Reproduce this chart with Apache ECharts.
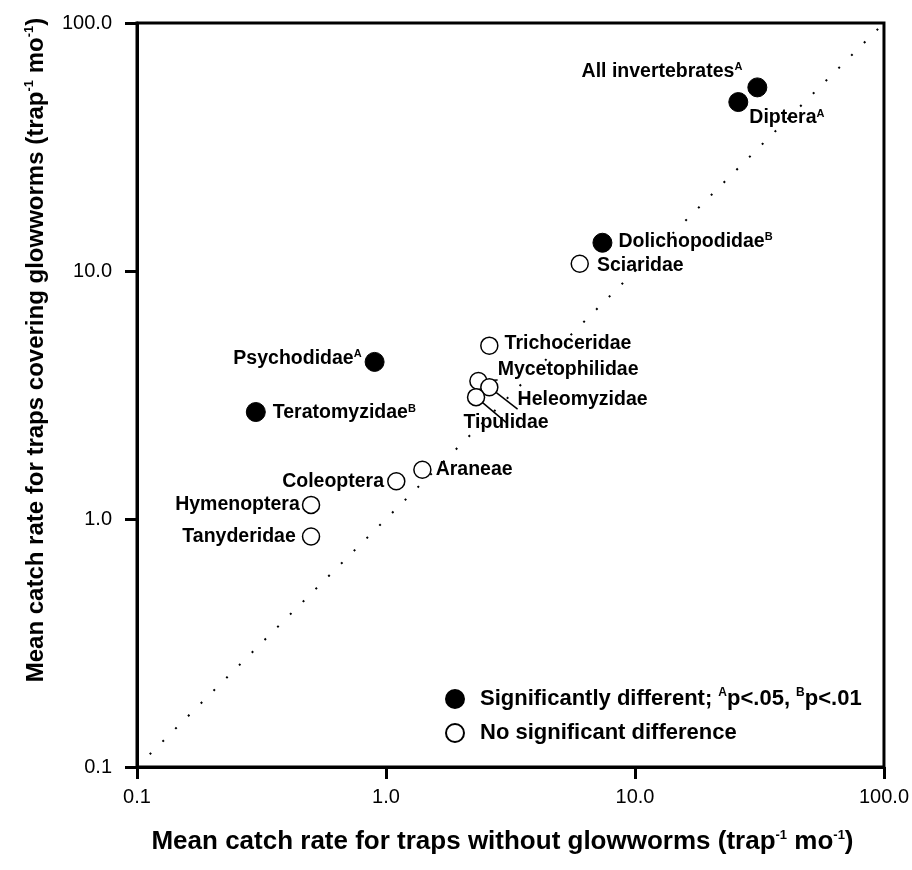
<!DOCTYPE html>
<html><head><meta charset="utf-8">
<script src="https://cdn.jsdelivr.net/npm/echarts@6/dist/echarts.min.js"></script>
<style>html,body{margin:0;padding:0;background:#fff}#c{width:912px;height:870px}</style>
</head><body><div id="c"></div>
<script>
// ---- data ----
const sigNames = ['All invertebrates', 'Diptera', 'Dolichopodidae', 'Psychodidae', 'Teratomyzidae'];
const sigX = [31, 26, 7.4, 0.9, 0.3];
const sigY = [55, 48, 13, 4.3, 2.7];
const sigLetter = ['A', 'A', 'B', 'A', 'B'];

const nsNames = ['Sciaridae', 'Trichoceridae', 'Mycetophilidae', 'Heleomyzidae', 'Tipulidae', 'Araneae', 'Coleoptera', 'Hymenoptera', 'Tanyderidae'];
const nsX = [6.0, 2.6, 2.35, 2.6, 2.3, 1.4, 1.1, 0.5, 0.5];
const nsY = [10.7, 5.0, 3.6, 3.4, 3.1, 1.58, 1.42, 1.14, 0.85];

const equalityLine = [0.1, 100];
const xTitle = 'Mean catch rate for traps without glowworms (trap{s|-1} mo{s|-1})';
const yTitle = 'Mean catch rate for traps covering glowworms (trap{s|-1} mo{s|-1})';
const legendSig = 'Significantly different; {s|A}p<.05, {s|B}p<.01';
const legendNs = 'No significant difference';

// ---- label placement (style) ----
const labelPlace = {
  'All invertebrates': {position: 'left', offset: [0, -16]},
  'Diptera': {position: 'right', offset: [-4, 16]},
  'Dolichopodidae': {position: 'right', offset: [1, -1]},
  'Psychodidae': {position: 'left', offset: [2, -3]},
  'Teratomyzidae': {position: 'right', offset: [2, 1]},
  'Sciaridae': {position: 'right', offset: [3, 2]},
  'Trichoceridae': {position: 'right', offset: [1, -2]},
  'Mycetophilidae': {position: 'right', offset: [5, -11], line: true},
  'Heleomyzidae': {position: 'right', offset: [14, 12], line: true},
  'Tipulidae': {position: 'bottom', offset: [30, 1], line: true},
  'Araneae': {position: 'right', offset: [-1, 0]},
  'Coleoptera': {position: 'left', offset: [2, 0]},
  'Hymenoptera': {position: 'left', offset: [3, 0]},
  'Tanyderidae': {position: 'left', offset: [-1, 0]}
};

const FONT = '"Liberation Sans", Arial, sans-serif';
const supRich = {
  n: {fontSize: 19.5, fontWeight: 'bold', fontFamily: FONT, color: '#000', lineHeight: 20},
  s: {fontSize: 11, fontWeight: 'bold', fontFamily: FONT, color: '#000', verticalAlign: 'top', lineHeight: 20, padding: [0, 0, 11, 0]}
};

function buildData(names, xs, ys, letters) {
  return names.map((n, i) => {
    const p = labelPlace[n] || {position: 'right', offset: [0, 0]};
    const item = {
      name: n,
      value: [xs[i], ys[i]],
      label: {
        show: true,
        position: p.position,
        offset: p.offset,
        distance: 5,
        formatter: letters ? '{n|' + n + '}{s|' + letters[i] + '}' : '{n|' + n + '}',
        rich: supRich
      }
    };
    if (p.line) {
      item.labelLine = {show: true, lineStyle: {color: '#000', width: 1.5}};
    }
    return item;
  });
}

const chart = echarts.init(document.getElementById('c'));
const axisCommon = {
  type: 'log', logBase: 10, min: 0.1, max: 100,
  axisLine: {show: true, lineStyle: {color: '#000', width: 3}},
  axisTick: {show: true, inside: false, length: 12, lineStyle: {color: '#000', width: 3}},
  minorTick: {show: false},
  splitLine: {show: false},
  nameLocation: 'middle'
};
const titleRich = {s: {fontSize: 13, fontWeight: 'bold', fontFamily: FONT, color: '#000', verticalAlign: 'top', padding: [0, 0, 13, 0]}};
chart.setOption({
  backgroundColor: '#fff',
  animation: false,
  grid: {left: 137, right: 26, top: 23, bottom: 103, show: true, borderColor: '#000', borderWidth: 3, backgroundColor: 'transparent'},
  xAxis: Object.assign({}, axisCommon, {
    name: xTitle, nameGap: 62,
    nameTextStyle: {fontFamily: FONT, fontSize: 26, fontWeight: 'bold', color: '#000', padding: [0, 16, 0, 0], rich: titleRich},
    axisLabel: {margin: 20, fontFamily: FONT, fontSize: 20, color: '#000', formatter: v => (+v).toFixed(1)}
  }),
  yAxis: Object.assign({}, axisCommon, {
    name: yTitle, nameGap: 88, nameRotate: 90,
    nameTextStyle: {fontFamily: FONT, fontSize: 24, fontWeight: 'bold', color: '#000', padding: [0, 0, 0, 90], rich: titleRich},
    axisLabel: {margin: 25, fontFamily: FONT, fontSize: 20, color: '#000', formatter: v => (+v).toFixed(1)}
  }),
  legend: {
    show: true, orient: 'vertical', left: 440, top: 682, itemGap: 12,
    itemWidth: 18, itemHeight: 18, icon: 'circle',
    data: [{name: legendSig}, {name: legendNs}],
    textStyle: {fontFamily: FONT, fontSize: 22, fontWeight: 'bold', color: '#000', padding: [0, 0, 0, 11],
      rich: {s: {fontSize: 12, fontWeight: 'bold', fontFamily: FONT, color: '#000', verticalAlign: 'top', padding: [0, 0, 12, 0]}}},
    formatter: n => n
  },
  series: [
    {
      type: 'line', name: 'equality', data: equalityLine.map(v => [v, v]),
      symbol: 'none', silent: true,
      lineStyle: {color: '#000', width: 2, type: [2, 16]}
    },
    {
      type: 'scatter', name: legendSig, symbol: 'circle', symbolSize: 19,
      itemStyle: {color: '#000', borderColor: '#000', borderWidth: 1, opacity: 1},
      data: buildData(sigNames, sigX, sigY, sigLetter)
    },
    {
      type: 'scatter', name: legendNs, symbol: 'circle', symbolSize: 17,
      itemStyle: {color: '#fff', borderColor: '#000', borderWidth: 1.5, opacity: 1},
      data: buildData(nsNames, nsX, nsY, null)
    }
  ]
});
</script>
</body></html>
